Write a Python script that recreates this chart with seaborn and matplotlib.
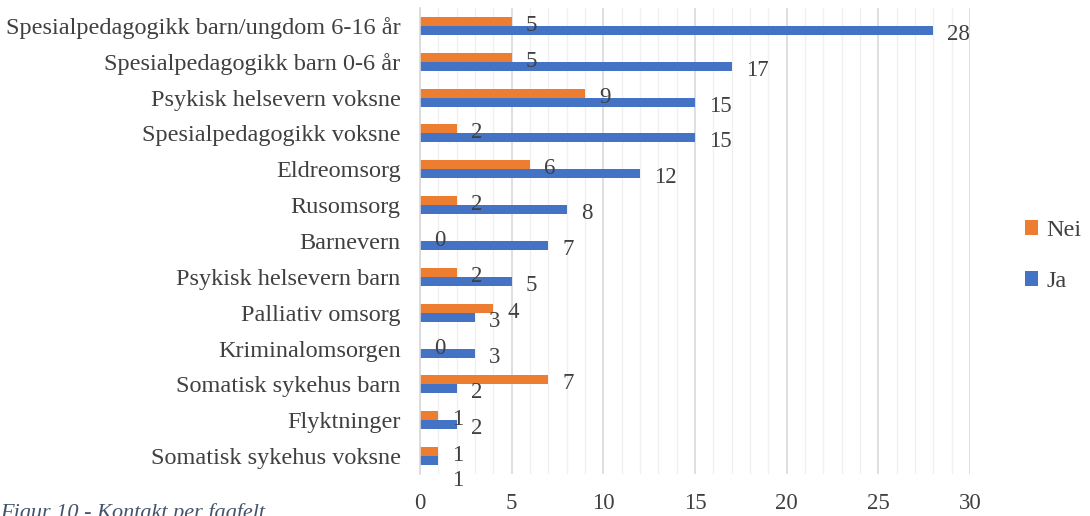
import matplotlib
matplotlib.use("Agg")
import matplotlib.pyplot as plt
import seaborn as sns
import pandas as pd
from matplotlib.ticker import MultipleLocator
from matplotlib.patches import Patch

categories = [
    "Spesialpedagogikk barn/ungdom 6-16 år",
    "Spesialpedagogikk barn 0-6 år",
    "Psykisk helsevern voksne",
    "Spesialpedagogikk voksne",
    "Eldreomsorg",
    "Rusomsorg",
    "Barnevern",
    "Psykisk helsevern barn",
    "Palliativ omsorg",
    "Kriminalomsorgen",
    "Somatisk sykehus barn",
    "Flyktninger",
    "Somatisk sykehus voksne",
]
nei = [5, 5, 9, 2, 6, 2, 0, 2, 4, 0, 7, 1, 1]
ja = [28, 17, 15, 15, 12, 8, 7, 5, 3, 3, 2, 2, 1]
series = ["Nei", "Ja"]
colors = {"Nei": "#ED7D31", "Ja": "#4472C4"}
x_ticks = [0, 5, 10, 15, 20, 25, 30]
caption = "Figur 10 - Kontakt per fagfelt"

df = pd.DataFrame({
    "Kategori": categories * 2,
    "Serie": ["Nei"] * len(categories) + ["Ja"] * len(categories),
    "Antall": nei + ja,
})

sns.set_theme(style="white")
plt.rcParams["font.family"] = ["Liberation Serif", "DejaVu Serif"]

fig = plt.figure(figsize=(10.9, 5.16), dpi=100)
ax = fig.add_axes([420 / 1090, 1 - 474 / 516, 550 / 1090, 466 / 516])

sns.barplot(data=df, y="Kategori", x="Antall", hue="Serie", order=categories,
            hue_order=series, palette=colors, orient="h", width=0.5,
            dodge=True, ax=ax, saturation=1, legend=False, linewidth=0)

ax.set_xlim(0, 30)
ax.set_xticks(x_ticks)
ax.xaxis.set_minor_locator(MultipleLocator(1))
ax.grid(axis="x", which="major", color="#D9D9D9", linewidth=1.2, zorder=0)
ax.grid(axis="x", which="minor", color="#F0F0F0", linewidth=1.0, zorder=0)
ax.set_axisbelow(True)
for s in ["top", "right", "bottom"]:
    ax.spines[s].set_visible(False)
ax.spines["left"].set_color("#D9D9D9")
ax.spines["left"].set_linewidth(1.2)
ax.set_xlabel("")
ax.set_ylabel("")
ax.tick_params(axis="x", which="both", length=0, labelsize=16.5, colors="#404040", pad=14)
ax.tick_params(axis="y", which="both", length=0, labelsize=17.5, colors="#404040", pad=14)

# data labels
cont_nei, cont_ja = ax.containers[0], ax.containers[1]
for i, (pn, pj) in enumerate(zip(cont_nei, cont_ja)):
    for p, v, extra in [(pn, nei[i], 0), (pj, ja[i], 16 if ja[i] == nei[i] else 0)]:
        yc = p.get_y() + p.get_height() / 2
        ax.annotate(f"{v}", xy=(p.get_width(), yc), xytext=(14, -4 - extra),
                    textcoords="offset pixels", ha="left", va="center",
                    fontsize=16.5, color="#404040")

# legend
handles = [Patch(facecolor=colors[s], edgecolor="none") for s in series]
fig.legend(handles, series, loc="center left", bbox_to_anchor=(1003 / 1090, 1 - 256 / 516),
           frameon=False, fontsize=17.5, handlelength=0.55, handleheight=0.55,
           handletextpad=0.35, labelspacing=1.25, labelcolor="#404040")

fig.text(0.0, 1 - 503 / 516, caption, ha="left", va="top", fontsize=16,
         style="italic", color="#44546A")

fig.savefig("out.png", dpi=100)
